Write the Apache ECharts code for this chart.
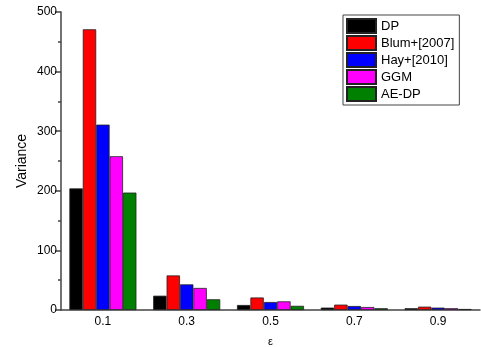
<!DOCTYPE html>
<html><head><meta charset="utf-8">
<script src="https://cdn.jsdelivr.net/npm/echarts@6/dist/echarts.min.js"></script>
<style>html,body{margin:0;padding:0;background:#fff}#c{width:481px;height:347px}</style>
</head><body><div id="c"></div>
<script>
var categories = ['0.1', '0.3', '0.5', '0.7', '0.9'];
var seriesNames = ['DP', 'Blum+[2007]', 'Hay+[2010]', 'GGM', 'AE-DP'];
var dp    = [204, 24, 8.4, 4, 3];
var blum  = [471, 58, 21, 9, 5.6];
var hay   = [311, 43, 13.4, 6.7, 4];
var ggm   = [258, 37, 14.5, 5, 3];
var aedp  = [197, 18, 7, 3, 1.7];
var colors = ['#000000', '#ff0000', '#0000ff', '#ff00ff', '#008000'];
var yTicks = [0, 100, 200, 300, 400, 500];

var values = [dp, blum, hay, ggm, aedp];
var font = 'Liberation Sans, Arial, sans-serif';
var chart = echarts.init(document.getElementById('c'));
chart.setOption({
  animation: false,
  backgroundColor: '#fff',
  grid: {left: 61, right: 1, top: 12, bottom: 37, outerBoundsMode: 'none', containLabel: false},
  legend: {
    orient: 'vertical', left: 343, top: 15,
    icon: 'rect',
    itemWidth: 29, itemHeight: 14, itemGap: 1,
    padding: [3, 5, 3, 3],
    borderColor: '#444', borderWidth: 1,
    textStyle: {fontFamily: font, fontSize: 13, lineHeight: 14, color: '#000'},
    data: seriesNames
  },
  xAxis: [{
    type: 'category', data: categories,
    name: 'ε', nameLocation: 'middle', nameGap: 26,
    nameTextStyle: {fontFamily: font, fontSize: 11, color: '#000'},
    axisLine: {lineStyle: {color: '#444', width: 1.5}},
    axisTick: {alignWithLabel: true, inside: true, length: 5, lineStyle: {color: '#444', width: 1.5}},
    axisLabel: {fontFamily: font, fontSize: 12, color: '#000', margin: 6}
  }, {
    type: 'category', data: categories, position: 'bottom', gridIndex: 0,
    axisLine: {show: false},
    axisTick: {inside: true, length: 3, lineStyle: {color: '#444', width: 1.5}},
    axisLabel: {show: false}
  }],
  yAxis: {
    type: 'value', min: yTicks[0], max: yTicks[yTicks.length-1], interval: 100,
    name: 'Variance', nameLocation: 'middle', nameGap: 32, nameRotate: 90,
    nameMoveOverlap: false,
    nameTextStyle: {fontFamily: font, fontSize: 14, color: '#000'},
    axisLine: {show: true, lineStyle: {color: '#444', width: 1.5}},
    axisTick: {show: true, length: 6, lineStyle: {color: '#444', width: 1.5}},
    minorTick: {show: true, splitNumber: 2, length: 3, lineStyle: {color: '#444', width: 1.5}},
    splitLine: {show: false},
    axisLabel: {fontFamily: font, fontSize: 12, color: '#000', margin: 4}
  },
  series: seriesNames.map(function(n, i){
    return {
      name: n, type: 'bar', data: values[i], xAxisIndex: 0,
      barGap: '0%', barCategoryGap: '20%',
      itemStyle: {color: colors[i], borderColor: '#222', borderWidth: 0.8}
    };
  })
});
</script></body></html>
